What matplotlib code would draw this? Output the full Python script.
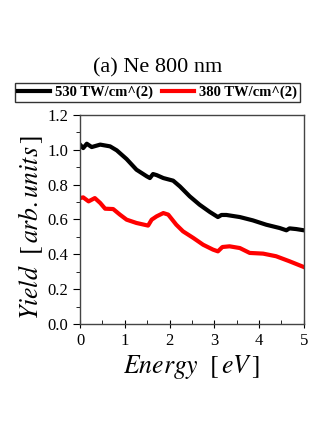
import matplotlib.pyplot as plt
from matplotlib.ticker import MultipleLocator

plt.rcParams['font.family'] = ['Liberation Serif', 'DejaVu Serif']
plt.rcParams['mathtext.fontset'] = 'stix'

# 530 TW/cm^2 curve
e_530 = [0, 0.07, 0.15, 0.26, 0.45, 0.67, 0.82, 1.04, 1.26, 1.49, 1.56, 1.63, 1.71,
         1.86, 2.08, 2.23, 2.45, 2.67, 2.90, 3.08, 3.16, 3.27, 3.57, 3.86, 4.16,
         4.46, 4.61, 4.68, 4.83, 5.0]
y_530 = [1.03, 1.01, 1.035, 1.016, 1.03, 1.02, 0.997, 0.947, 0.886, 0.848, 0.838,
         0.861, 0.855, 0.838, 0.823, 0.79, 0.733, 0.685, 0.643, 0.614, 0.626, 0.626,
         0.614, 0.595, 0.57, 0.551, 0.538, 0.549, 0.545, 0.538]

# 380 TW/cm^2 curve
e_380 = [0, 0.07, 0.19, 0.33, 0.45, 0.56, 0.74, 0.89, 1.04, 1.26, 1.52, 1.60, 1.71,
         1.86, 1.97, 2.15, 2.30, 2.53, 2.75, 2.97, 3.08, 3.18, 3.34, 3.57, 3.79,
         4.09, 4.38, 4.68, 5.0]
y_380 = [0.723, 0.727, 0.704, 0.723, 0.695, 0.662, 0.66, 0.628, 0.599, 0.58, 0.565,
         0.599, 0.618, 0.637, 0.628, 0.57, 0.532, 0.494, 0.455, 0.427, 0.417, 0.442,
         0.446, 0.436, 0.408, 0.404, 0.389, 0.36, 0.327]

fig = plt.figure(figsize=(3.35, 4.34), dpi=100)
ax = fig.add_axes([0.239, 0.2535, 0.668, 0.4815])

ax.plot(e_530, y_530, color='black', lw=3, label='530 TW/cm^(2)')
ax.plot(e_380, y_380, color='red', lw=3, label='380 TW/cm^(2)')

ax.set_xlim(0, 5)
ax.set_ylim(0, 1.2)
ax.xaxis.set_major_locator(MultipleLocator(1))
ax.xaxis.set_minor_locator(MultipleLocator(0.5))
ax.yaxis.set_major_locator(MultipleLocator(0.2))
ax.yaxis.set_minor_locator(MultipleLocator(0.1))
ax.yaxis.set_major_formatter(plt.FormatStrFormatter('%.1f'))
ax.tick_params(axis='x', which='major', direction='inout', length=6, labelsize=12)
ax.tick_params(axis='x', which='minor', direction='in', length=3)
ax.tick_params(axis='y', which='major', direction='out', length=5, labelsize=12)
ax.tick_params(axis='y', which='minor', direction='out', length=3)
for s in ax.spines.values():
    s.set_color('#444444')
    s.set_linewidth(1)

ax.set_xlabel(r'$Energy\ \ \left[\,eV\,\right]$', fontsize=18.5, labelpad=3)
ax.set_ylabel(r'$Yield\ \ \left[\,arb.units\,\right]$', fontsize=18.5)
ax.yaxis.set_label_coords(-0.155, 0.46)

fig.text(0.47, 0.843, '(a) Ne 800 nm', ha='center', va='center', fontsize=16)

leg = fig.legend(loc='center', bbox_to_anchor=(0.47, 0.787), ncol=2, frameon=True,
                 fancybox=False, edgecolor='black',
                 prop={'weight': 'bold', 'size': 10.5}, handlelength=2.2,
                 handletextpad=0.35, columnspacing=0.6, borderpad=0.2,
                 borderaxespad=0)
leg.get_frame().set_linewidth(1)

fig.savefig('out.png', dpi=100)
